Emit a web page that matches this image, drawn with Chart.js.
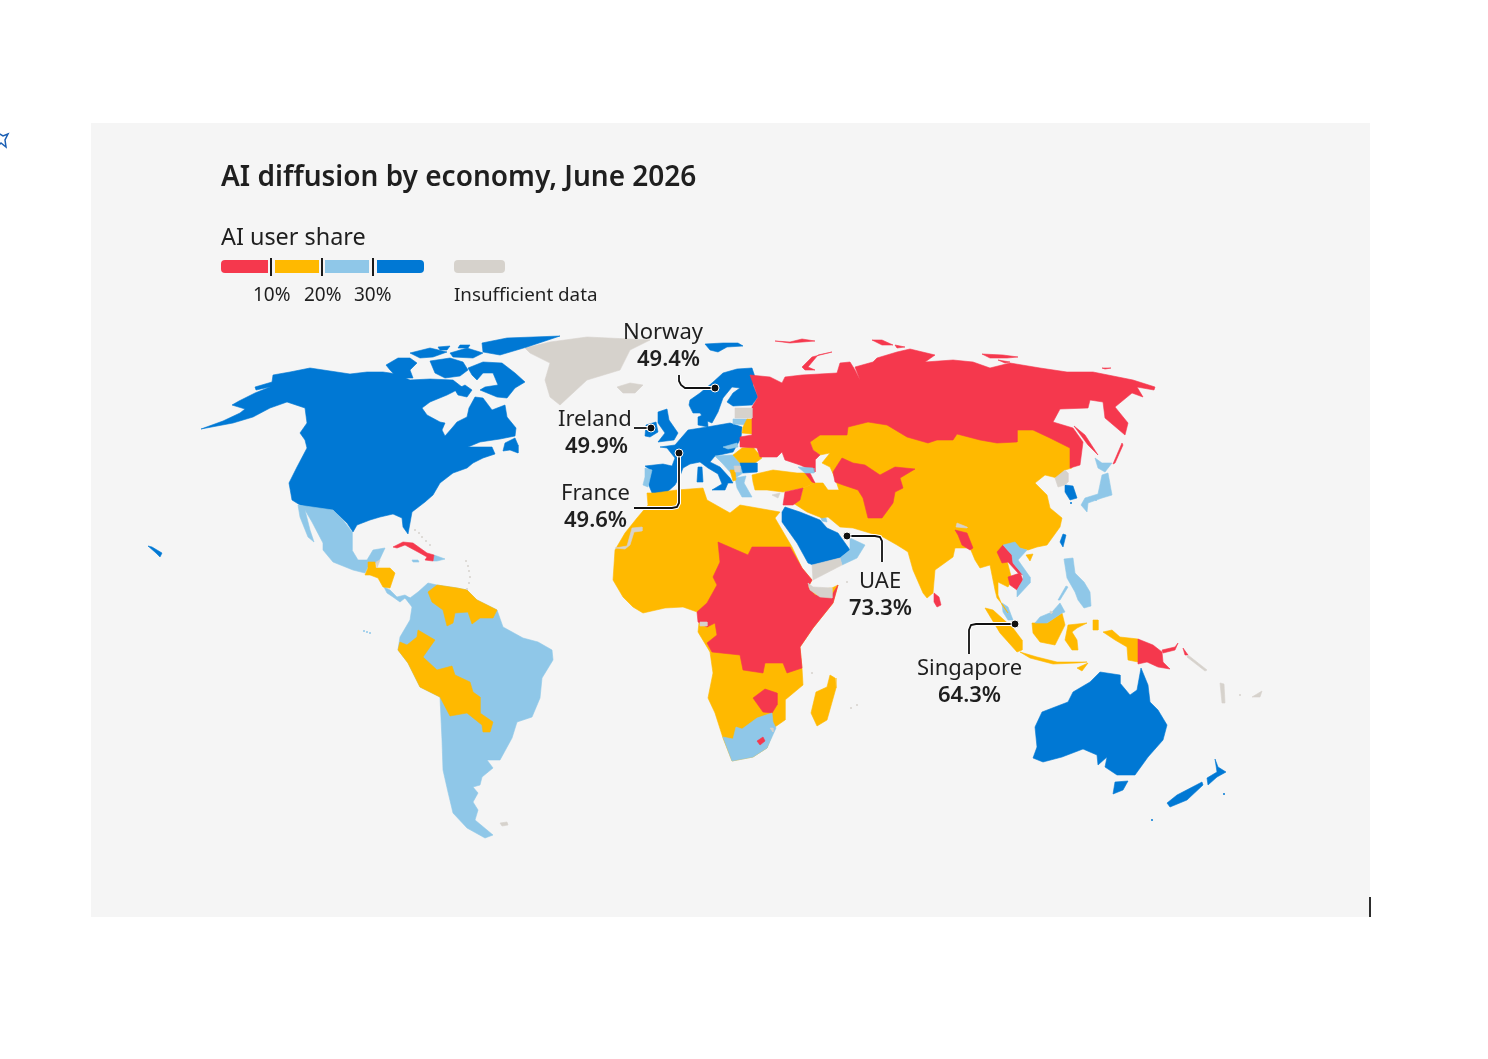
<!DOCTYPE html>
<html lang="en">
<head>
<meta charset="utf-8">
<title>AI diffusion by economy, June 2026</title>
<script src="https://cdn.jsdelivr.net/npm/chart.js"></script>
<style>
    html, body { margin: 0; padding: 0; background: #fff; }
    body { width: 1488px; height: 1059px; position: relative; overflow: hidden; font-family: "Noto Sans", sans-serif; color: #1f1f1f; }
    #panel { position: absolute; left: 91px; top: 123px; width: 1279px; height: 794px; background: #f5f5f5; }
    #mapCanvas { position: absolute; left: 0; top: 0; }
    .txt { position: absolute; white-space: nowrap; line-height: 1; }
    .key { position: absolute; top: 260px; height: 13px; }
    .tick { position: absolute; top: 258px; width: 2px; height: 18px; background: #1a1a1a; }
    .lab { font-size: 22px; }
    .val { font-size: 22px; font-weight: 600; }
</style>
</head>
<body>
<div id="panel"></div>
<canvas id="mapCanvas" width="1488" height="1059"></canvas>

<div class="txt" style="left:221px;top:161px;font-size:28px;font-weight:600">AI diffusion by economy, June 2026</div>
<div class="txt" style="left:221px;top:225px;font-size:23.4px">AI user share</div>
<div class="key" style="left:221px;width:47px;background:#f5384d;border-radius:4px 0 0 4px"></div>
<div class="key" style="left:275px;width:44px;background:#ffb900"></div>
<div class="key" style="left:325px;width:44px;background:#8fc7e8"></div>
<div class="key" style="left:377px;width:47px;background:#0078d4;border-radius:0 4px 4px 0"></div>
<div class="key" style="left:454px;width:51px;background:#d6d2cc;border-radius:4px"></div>
<div class="tick" style="left:270px"></div>
<div class="tick" style="left:321px"></div>
<div class="tick" style="left:372px"></div>
<div class="txt" style="left:253px;top:285px;font-size:19px">10%</div>
<div class="txt" style="left:304px;top:285px;font-size:19px">20%</div>
<div class="txt" style="left:354px;top:285px;font-size:19px">30%</div>
<div class="txt" style="left:454px;top:285px;font-size:18.8px">Insufficient data</div>

<div class="txt lab" style="left:623px;top:319px">Norway</div>
<div class="txt val" style="left:637px;top:346px">49.4%</div>
<div class="txt lab" style="left:558px;top:406px">Ireland</div>
<div class="txt val" style="left:565px;top:433px">49.9%</div>
<div class="txt lab" style="left:561px;top:480px">France</div>
<div class="txt val" style="left:564px;top:507px">49.6%</div>
<div class="txt lab" style="left:859px;top:568px">UAE</div>
<div class="txt val" style="left:849px;top:595px">73.3%</div>
<div class="txt lab" style="left:917px;top:655px">Singapore</div>
<div class="txt val" style="left:938px;top:682px">64.3%</div>

<script>
// map outlines, in map units (x right, y down)
const northAmerica = [[201,429],[223,421],[240,413],[245,409],[232,405],[239,401],[255,393],[270,387],[256,390],[255,387],[272,382],[273,375],[290,372],[310,368],[330,371],[350,374],[367,372],[383,372],[397,374],[410,380],[430,379],[453,380],[462,387],[453,392],[447,395],[430,402],[422,408],[427,415],[440,422],[445,423],[442,430],[445,436],[452,428],[457,422],[467,417],[469,408],[475,397],[483,398],[492,410],[505,405],[507,417],[516,428],[515,436],[500,439],[480,442],[468,447],[483,447],[492,447],[495,454],[483,458],[473,463],[467,468],[453,473],[440,483],[433,495],[425,502],[412,512],[410,523],[408,534],[403,527],[402,518],[393,514],[380,517],[370,520],[357,525],[353,532],[347,523],[333,510],[323,512],[300,505],[292,500],[289,483],[297,467],[307,448],[305,440],[300,433],[307,423],[305,408],[287,402],[270,408],[253,417],[233,423]];
const newfoundland = [[505,443],[515,438],[518,445],[518,453],[510,450],[503,451]];
const baffin = [[468,368],[483,362],[502,363],[515,373],[525,382],[515,388],[507,398],[497,397],[480,390],[485,387],[498,385],[493,373],[483,373],[477,380],[472,375]];
const southampton = [[455,390],[465,385],[472,390],[467,397],[458,395]];
const victoria = [[386,365],[398,358],[410,358],[417,363],[410,370],[413,378],[398,378],[390,370]];
const somerset = [[430,361],[450,358],[463,362],[468,370],[460,376],[445,378],[435,373]];
const melville = [[410,353],[430,348],[447,352],[433,357],[420,358]];
const devon = [[450,353],[467,348],[483,353],[473,358],[453,357]];
const ellesmere = [[482,343],[507,338],[560,336],[527,347],[500,355],[483,352]];
const axelHeiberg = [[460,345],[470,345],[468,348],[458,348]];
const bathurst = [[438,347],[450,346],[447,350],[440,350]];
const hawaii = [[148,546],[152,547],[162,553],[160,557],[156,553]];
const mexico = [[298,505],[333,510],[343,520],[352,532],[352,550],[358,560],[367,560],[373,550],[385,548],[378,563],[370,563],[365,573],[353,570],[333,562],[323,550],[323,543],[312,522],[305,510],[310,530],[314,542],[308,537],[300,517]];
const centralAmerica = [[368,562],[375,562],[376,568],[390,568],[395,573],[390,588],[383,587],[378,578],[370,575],[365,575],[368,568]];
const belize = [[376,562],[380,560],[377,568]];
const costaRicaPanama = [[384,587],[390,590],[397,597],[405,595],[410,598],[405,598],[400,602],[393,597],[387,593]];
const cubaHaiti = [[393,547],[403,542],[413,543],[427,553],[434,555],[433,561],[425,560],[427,557],[418,552],[405,545],[397,548]];
const dominicanRep = [[434,555],[445,559],[437,561],[433,561]];
const jamaica = [[412,560],[418,560],[419,562],[413,562]];
const southAmerica = [[410,598],[418,592],[428,583],[437,585],[457,588],[467,590],[477,600],[497,610],[503,627],[523,638],[538,642],[552,650],[553,660],[542,678],[540,698],[532,717],[517,722],[512,738],[500,760],[487,760],[493,768],[482,777],[480,785],[473,787],[478,793],[473,802],[478,810],[475,820],[493,835],[485,838],[467,828],[453,813],[448,792],[443,770],[442,740],[440,697],[420,687],[408,663],[398,650],[400,637],[410,620],[412,607],[405,598]];
const venezuelaGuyanas = [[428,592],[437,585],[457,588],[467,590],[477,600],[497,610],[493,618],[480,618],[472,624],[468,612],[455,613],[453,623],[447,626],[443,610],[432,602]];
const peruBoliviaParaguay = [[418,630],[435,640],[423,657],[437,670],[452,666],[455,675],[470,682],[473,692],[480,697],[480,713],[493,722],[490,732],[483,732],[482,725],[467,713],[450,716],[440,697],[420,687],[408,663],[398,650],[400,642],[407,645],[417,637]];
const falklands = [[500,823],[507,822],[508,825],[502,826]];
const greenland = [[525,348],[550,342],[587,337],[650,340],[630,350],[620,370],[587,380],[560,405],[550,397],[545,380],[550,363],[530,353]];
const iceland = [[617,387],[630,383],[643,385],[635,393],[623,393]];
const svalbard = [[705,344],[723,343],[738,343],[743,346],[727,347],[718,352],[710,350]];
const scandinavia = [[690,400],[700,393],[712,383],[723,373],[737,369],[752,368],[755,377],[753,385],[758,397],[752,405],[733,406],[727,402],[733,393],[740,388],[732,387],[723,398],[718,412],[712,423],[705,420],[700,413],[693,413],[689,405]];
const denmark = [[698,417],[707,413],[708,427],[698,425]];
const britain = [[658,412],[667,409],[669,420],[678,433],[674,440],[658,442],[665,433],[658,423]];
const ireland = [[646,425],[656,422],[658,432],[650,437],[645,436]];
const westEurope = [[660,447],[675,445],[688,430],[707,427],[730,423],[742,427],[741,438],[733,452],[715,456],[710,462],[720,467],[730,478],[733,483],[728,483],[725,490],[712,490],[722,484],[718,474],[708,468],[700,462],[690,464],[683,468],[680,476],[675,485],[665,494],[652,493],[648,483],[650,470],[645,466],[663,464],[672,466],[675,458],[667,448]];
const corsicaSardinia = [[698,467],[702,467],[703,482],[697,482]];
const portugal = [[645,468],[652,470],[648,487],[643,485],[645,477]];
const estoniaLatvia = [[735,408],[752,408],[752,418],[735,418]];
const lithuania = [[733,419],[748,419],[748,425],[733,424]];
const belarus = [[747,419],[758,419],[767,428],[762,435],[742,433],[743,427]];
const romania = [[733,455],[742,448],[753,447],[762,458],[755,463],[740,463]];
const bulgaria = [[740,463],[757,463],[757,472],[743,473]];
const slovakia = [[723,447],[737,443],[738,447],[728,449]];
const balkans = [[715,456],[733,455],[740,463],[743,473],[735,478],[730,472],[722,463]];
const albania = [[730,470],[735,470],[736,480],[733,481]];
const kosovo = [[734,466],[740,466],[740,472],[735,472]];
const greece = [[735,478],[746,476],[744,483],[752,497],[742,497],[737,488]];
const russia = [[750,375],[770,377],[782,383],[785,377],[802,375],[837,373],[840,363],[850,362],[855,370],[860,380],[855,367],[873,362],[877,358],[897,352],[910,349],[935,355],[925,362],[953,360],[973,362],[990,368],[1010,363],[1040,368],[1067,372],[1093,372],[1133,380],[1155,387],[1154,390],[1137,387],[1143,397],[1132,393],[1115,407],[1128,423],[1125,435],[1105,418],[1103,402],[1090,400],[1088,408],[1060,409],[1053,422],[1073,428],[1083,442],[1080,465],[1070,468],[1070,448],[1050,438],[1033,430],[1017,430],[1017,442],[997,443],[980,440],[957,434],[953,440],[937,440],[928,443],[907,437],[887,425],[868,422],[848,427],[847,435],[820,435],[810,442],[813,450],[820,455],[815,460],[815,472],[800,465],[785,460],[782,452],[777,457],[765,457],[760,457],[757,448],[740,447],[740,437],[752,435],[752,407],[758,397]];
const novayaZemlya = [[802,367],[812,357],[832,352],[818,355],[808,367],[815,370],[805,370]];
const franzJosef = [[775,341],[790,342],[802,339],[815,341],[790,343]];
const severnaya = [[872,340],[882,340],[893,345],[882,345]];
const severnayaSmall = [[895,345],[905,347],[897,348]];
const newSiberia = [[982,354],[1003,355],[1018,357],[1007,358],[990,358]];
const lyakhov = [[998,360],[1010,362],[1005,363]];
const wrangel = [[1102,368],[1111,368],[1105,369]];
const sakhalin = [[1074,426],[1085,435],[1098,455],[1088,445]];
const kurils = [[1122,443],[1123,445],[1115,463],[1113,464]];
const asiaMain = [[810,442],[813,450],[820,455],[830,453],[822,463],[830,467],[835,478],[839,490],[828,490],[823,483],[815,483],[803,488],[800,500],[793,503],[807,512],[822,518],[828,517],[840,527],[853,528],[883,537],[897,545],[905,550],[908,552],[913,570],[923,593],[927,598],[933,593],[935,570],[953,557],[955,548],[970,548],[975,560],[980,568],[990,565],[995,590],[997,598],[1003,605],[1008,613],[1002,605],[998,595],[998,582],[1008,587],[1012,580],[1003,545],[1018,548],[1028,550],[1037,547],[1047,545],[1060,527],[1062,518],[1050,508],[1047,495],[1035,483],[1045,475],[1057,478],[1065,470],[1072,468],[1072,440],[1050,430],[1033,422],[1017,422],[1017,435],[997,435],[980,432],[957,427],[953,432],[937,432],[928,435],[907,430],[887,418],[868,415],[848,420],[847,428],[820,428]];
const turkey = [[752,475],[760,473],[773,470],[797,473],[807,473],[815,483],[803,488],[783,492],[767,490],[755,490],[753,482]];
const centralAsia = [[842,458],[853,463],[865,465],[880,475],[895,467],[915,469],[900,478],[903,488],[895,492],[893,503],[882,518],[868,518],[863,498],[858,490],[843,485],[835,482],[833,472]];
const bangladesh = [[955,530],[967,533],[973,548],[970,550],[962,545],[958,535]];
const nepal = [[957,523],[967,527],[967,528],[956,527]];
const laos = [[997,552],[1003,545],[1012,555],[1013,563],[1023,575],[1018,573],[1008,562],[1002,563]];
const cambodia = [[1008,577],[1020,573],[1023,580],[1017,590],[1010,585]];
const vietnam = [[1003,545],[1015,542],[1020,548],[1027,550],[1018,560],[1030,577],[1030,583],[1017,597],[1017,590],[1023,580],[1023,575],[1013,563],[1012,555]];
const hainan = [[1026,555],[1033,554],[1030,561]];
const sriLanka = [[934,593],[939,597],[941,605],[937,607],[934,602]];
const malayPeninsula = [[1002,603],[1008,607],[1013,620],[1008,620],[1003,612]];
const sumatra = [[985,608],[993,610],[1013,628],[1022,640],[1022,650],[1017,652],[1000,633]];
const java = [[1020,652],[1037,657],[1057,662],[1087,662],[1077,663],[1053,664],[1030,658]];
const timor = [[1077,668],[1088,663],[1082,671]];
const borneo = [[1032,623],[1047,623],[1062,613],[1065,625],[1055,645],[1040,642],[1033,633]];
const sabahSarawak = [[1035,623],[1040,617],[1052,612],[1060,603],[1065,612],[1062,613],[1047,623]];
const brunei = [[1050,611],[1053,612],[1051,614]];
const sulawesi = [[1068,625],[1087,623],[1077,628],[1072,632],[1077,640],[1078,650],[1072,650],[1065,640]];
const moluccas = [[1093,620],[1098,620],[1098,630],[1093,630]];
const westPapua = [[1103,632],[1112,630],[1120,637],[1138,639],[1138,662],[1128,660],[1127,647],[1115,640]];
const papuaNewGuinea = [[1138,639],[1153,645],[1162,652],[1163,662],[1170,669],[1158,667],[1147,662],[1138,664]];
const newBritain = [[1162,650],[1175,647],[1178,643],[1175,650],[1163,653]];
const bougainville = [[1183,648],[1188,655],[1185,655]];
const solomons = [[1188,655],[1207,670],[1205,671],[1187,657]];
const fiji = [[1252,697],[1262,691],[1260,697]];
const vanuatu = [[1220,683],[1224,684],[1225,703],[1222,703]];
const philippines = [[1064,559],[1073,558],[1075,573],[1084,582],[1090,592],[1091,606],[1084,608],[1078,600],[1075,592],[1067,578]];
const palawan = [[1058,600],[1066,586],[1068,587],[1060,600]];
const taiwan = [[1063,534],[1066,535],[1063,547],[1060,542]];
const southKorea = [[1065,485],[1073,486],[1077,498],[1070,500],[1065,492]];
const northKorea = [[1055,478],[1065,470],[1068,473],[1068,482],[1065,485],[1058,487]];
const honshu = [[1081,505],[1085,498],[1098,494],[1102,475],[1108,473],[1112,495],[1102,498],[1088,503],[1087,512]];
const hokkaido = [[1095,458],[1102,463],[1112,463],[1105,472],[1098,468]];
const saudiArabia = [[782,512],[785,507],[800,512],[820,520],[827,528],[838,533],[845,543],[850,550],[840,558],[813,565],[808,563],[797,543],[782,522]];
const oman = [[850,538],[865,545],[857,558],[842,565],[840,558],[850,550]];
const yemen = [[812,565],[840,558],[842,565],[813,580]];
const kuwait = [[820,516],[826,518],[827,522],[822,521]];
const iraqSyria = [[785,492],[803,488],[800,500],[793,505],[783,505]];
const cyprus = [[772,495],[780,493],[778,498]];
const georgia = [[798,467],[813,468],[814,473],[805,473]];
const armenia = [[805,473],[810,473],[815,483],[812,482]];
const africa = [[647,493],[655,493],[677,490],[703,488],[707,500],[730,513],[740,505],[780,512],[775,518],[792,547],[802,568],[812,580],[808,587],[813,590],[832,588],[838,585],[833,603],[813,628],[800,647],[802,668],[803,685],[785,700],[785,720],[775,727],[767,748],[753,757],[732,761],[723,738],[715,713],[708,698],[713,673],[710,652],[698,632],[700,613],[683,607],[665,608],[643,613],[633,607],[623,597],[613,580],[615,550],[625,533],[637,518],[648,505]];
const centralEastAfrica = [[718,542],[748,555],[752,547],[790,547],[802,568],[812,580],[808,587],[815,595],[830,598],[838,585],[833,603],[813,628],[800,647],[802,668],[787,673],[783,663],[765,663],[763,673],[743,670],[740,655],[712,652],[707,643],[717,635],[715,623],[707,627],[698,622],[697,612],[707,603],[717,585],[713,577],[720,562]];
const somalia = [[808,583],[813,587],[832,588],[832,598],[820,597],[810,590]];
const zimbabwe = [[753,698],[765,689],[777,693],[777,705],[772,713],[763,712]];
const southAfrica = [[723,737],[733,739],[736,727],[742,729],[757,718],[772,713],[773,722],[776,728],[767,748],[753,757],[732,761]];
const lesotho = [[757,741],[763,737],[765,741],[760,745]];
const eswatini = [[770,728],[773,728],[773,732]];
const eqGuinea = [[700,622],[707,622],[707,626],[700,626]];
const westernSahara = [[615,548],[627,546],[632,528],[642,527],[642,531],[634,532],[630,545],[625,549]];
const madagascar = [[830,675],[835,678],[836,688],[827,720],[817,726],[811,713],[816,692],[827,687]];
const australia = [[1033,758],[1037,747],[1035,727],[1042,712],[1068,702],[1073,692],[1090,682],[1100,672],[1120,675],[1120,683],[1130,695],[1137,690],[1141,668],[1148,685],[1150,702],[1158,710],[1167,725],[1163,740],[1148,757],[1135,775],[1117,775],[1105,767],[1107,757],[1098,765],[1097,755],[1083,749],[1062,757],[1043,762]];
const tasmania = [[1115,782],[1128,781],[1123,790],[1113,794]];
const nzSouth = [[1167,803],[1177,795],[1202,782],[1203,785],[1187,800],[1170,807]];
const nzNorth = [[1215,759],[1218,767],[1226,772],[1217,777],[1208,785],[1207,778],[1217,772]];

// tiny islands, too small for an outline
const grayIslands = [[415,530],[419,533],[422,537],[426,541],[430,545],[466,561],[468,566],[469,571],[470,577],[469,583],[467,589],[847,582],[812,673],[851,708],[857,705],[1240,695]];
const lightIslands = [[364,631],[367,632],[370,633],[1096,500]];
const blueIslands = [[1071,503],[1224,794],[1152,820]];

// callouts, leader line then the dot on the economy
const calloutNorway = [[679,375],[679,381],[681,385],[685,388],[715,388]];
const calloutIreland = [[634,428],[651,428]];
const calloutFrance = [[634,508],[672,508],[677,507],[679,503],[679,453]];
const calloutUae = [[847,536],[875,536],[880,537],[882,541],[882,562]];
const calloutSingapore = [[1015,624],[976,624],[971,625],[969,630],[969,654]];

// stray marks at the edges of the screenshot
const strayStar = [[-2,133],[3,136],[8,134],[5,140],[6,147],[1,143],[-3,147],[-1,140],[-2,133]];
const strayTick = [[1370,897],[1370,917]];

const COLORS = { red: '#f5384d', yellow: '#ffb900', light: '#8fc7e8', blue: '#0078d4', gray: '#d6d2cc' };

// painted first to last, later shapes lie on top of earlier ones
const paintOrder = [
    ['gray', [greenland, iceland, falklands]],
    ['blue', [northAmerica, newfoundland, baffin, southampton, victoria, somerset, melville, devon, ellesmere, axelHeiberg, bathurst, hawaii, svalbard, scandinavia, denmark, britain, ireland, westEurope, corsicaSardinia, saudiArabia, taiwan, southKorea, australia, tasmania, nzSouth, nzNorth]],
    ['light', [mexico, costaRicaPanama, dominicanRep, jamaica, southAmerica, portugal, lithuania, slovakia, balkans, greece, malayPeninsula, philippines, palawan, honshu, hokkaido, oman, kuwait]],
    ['yellow', [asiaMain, africa, turkey, centralAmerica, venezuelaGuyanas, peruBoliviaParaguay, belarus, romania, albania, hainan, sumatra, java, timor, borneo, sulawesi, moluccas, westPapua, madagascar]],
    ['red', [russia, novayaZemlya, franzJosef, severnaya, severnayaSmall, newSiberia, lyakhov, wrangel, sakhalin, kurils, cubaHaiti, centralAsia, bangladesh, laos, cambodia, sriLanka, papuaNewGuinea, newBritain, bougainville, iraqSyria, armenia, centralEastAfrica, zimbabwe]],
    ['blue', [bulgaria]],
    ['light', [sabahSarawak, georgia, southAfrica, vietnam]],
    ['red', [lesotho]],
    ['gray', [belize, estoniaLatvia, kosovo, nepal, brunei, solomons, fiji, vanuatu, northKorea, yemen, cyprus, somalia, eswatini, eqGuinea, westernSahara]]
];

function toPoints(list) {
    return list.map(p => ({ x: p[0], y: p[1] }));
}

const datasets = [];
paintOrder.forEach(layer => {
    const color = COLORS[layer[0]];
    layer[1].forEach(shape => {
        datasets.push({
            data: toPoints(shape.concat([shape[0]])),
            showLine: true,
            fill: 'shape',
            backgroundColor: color,
            borderColor: color,
            borderWidth: 0.6,
            pointRadius: 0
        });
    });
});

[[grayIslands, COLORS.gray], [lightIslands, COLORS.light], [blueIslands, COLORS.blue]].forEach(item => {
    datasets.push({ data: toPoints(item[0]), showLine: false, pointRadius: 1, pointBorderWidth: 0, backgroundColor: item[1] });
});

// leader lines get a white halo, same as the dots
[calloutNorway, calloutIreland, calloutFrance, calloutUae, calloutSingapore].forEach(line => {
    datasets.push({ data: toPoints(line), showLine: true, fill: false, borderColor: '#ffffff', borderWidth: 4, pointRadius: 0 });
    datasets.push({ data: toPoints(line), showLine: true, fill: false, borderColor: '#111111', borderWidth: 1.8, pointRadius: 0 });
});
const dots = [calloutNorway[4], calloutIreland[1], calloutFrance[4], calloutUae[0], calloutSingapore[0]];
datasets.push({ data: toPoints(dots), showLine: false, pointRadius: 4, pointBorderWidth: 1, pointBorderColor: '#ffffff', pointBackgroundColor: '#111111' });

datasets.push({ data: toPoints(strayStar), showLine: true, fill: false, borderColor: '#1a5fb4', borderWidth: 1.5, pointRadius: 0 });
datasets.push({ data: toPoints(strayTick), showLine: true, fill: false, borderColor: '#111111', borderWidth: 1, pointRadius: 0 });

// chart.js draws the lowest order on top, so count down
datasets.forEach((d, i) => { d.order = datasets.length - i; });

const ctx = document.getElementById('mapCanvas').getContext('2d');
new Chart(ctx, {
    type: 'scatter',
    data: { datasets: datasets },
    options: {
        responsive: false,
        animation: false,
        events: [],
        clip: false,
        layout: { padding: 0, autoPadding: false },
        plugins: { legend: { display: false }, tooltip: { enabled: false }, title: { display: false } },
        scales: {
            x: { type: 'linear', display: false, min: 0, max: 1488 },
            y: { type: 'linear', display: false, min: 0, max: 1059, reverse: true }
        }
    }
});
</script>
</body>
</html>
